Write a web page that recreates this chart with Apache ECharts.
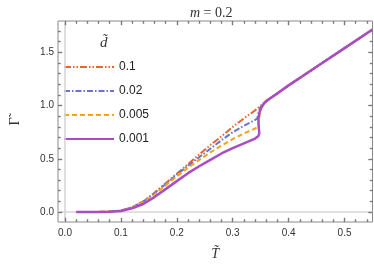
<!DOCTYPE html>
<html><head><meta charset="utf-8">
<script src="https://cdn.jsdelivr.net/npm/echarts@6/dist/echarts.min.js"></script>
<style>html,body{margin:0;padding:0;background:#fff}#c{width:374px;height:267px}</style>
</head><body><div id="c"></div>
<script>
// ---- data ----
const seriesNames = ["0.1", "0.02", "0.005", "0.001"];
const T_d01 = [0.02,0.04,0.06,0.08,0.10,0.12,0.14,0.16,0.18,0.20,0.22,0.24,0.26,0.28,0.30,0.32,0.34,0.355,0.38,0.40,0.45,0.50,0.55];
const G_d01 = [0,0,0.001,0.004,0.014,0.045,0.10,0.18,0.27,0.36,0.45,0.54,0.63,0.71,0.80,0.88,0.955,1.02,1.115,1.19,1.365,1.54,1.715];
const T_d002 = [0.02,0.04,0.06,0.08,0.10,0.12,0.14,0.16,0.18,0.20,0.22,0.24,0.26,0.28,0.30,0.32,0.34,0.344,0.346,0.349,0.356,0.38,0.40,0.45,0.50,0.55];
const G_d002 = [0,0,0.001,0.004,0.013,0.043,0.097,0.175,0.262,0.35,0.435,0.515,0.595,0.675,0.75,0.81,0.865,0.88,0.93,0.98,1.03,1.115,1.19,1.365,1.54,1.715];
const T_d0005 = [0.02,0.04,0.06,0.08,0.10,0.12,0.14,0.16,0.18,0.20,0.22,0.24,0.26,0.28,0.30,0.32,0.34,0.345,0.347,0.349,0.353,0.358,0.38,0.40,0.45,0.50,0.55];
const G_d0005 = [0,0,0.001,0.004,0.012,0.040,0.09,0.165,0.25,0.335,0.415,0.49,0.56,0.625,0.685,0.738,0.785,0.80,0.87,0.95,1.0,1.04,1.115,1.19,1.365,1.54,1.715];
const T_d0001 = [0.02,0.04,0.06,0.08,0.10,0.12,0.14,0.16,0.18,0.20,0.22,0.24,0.26,0.28,0.30,0.32,0.34,0.346,0.3475,0.3465,0.346,0.3475,0.351,0.356,0.362,0.38,0.40,0.45,0.50,0.55];
const G_d0001 = [0,0,0.001,0.003,0.010,0.035,0.075,0.14,0.215,0.29,0.365,0.43,0.49,0.55,0.60,0.645,0.69,0.715,0.74,0.80,0.87,0.93,0.98,1.02,1.05,1.115,1.19,1.365,1.54,1.715];
const xMajor = [0,0.1,0.2,0.3,0.4,0.5];
const xMinor = [0.02,0.04,0.06,0.08,0.12,0.14,0.16,0.18,0.22,0.24,0.26,0.28,0.32,0.34,0.36,0.38,0.42,0.44,0.46,0.48,0.52,0.54];
const yMajor = [0,0.5,1.0,1.5];
const yMinor = [0.1,0.2,0.3,0.4,0.6,0.7,0.8,0.9,1.1,1.2,1.3,1.4,1.6,1.7];

const zip = (a, b) => a.map((v, i) => [v, b[i]]);
const allT = [T_d01, T_d002, T_d0005, T_d0001];
const allG = [G_d01, G_d002, G_d0005, G_d0001];
const colors = ["#EA6430", "#6A74CC", "#F2A21C", "#A84DC4"];
const dashes = [[7,2,1.5,2,1.5,2], [6,2,1.5,2], [5,3], "solid"];
const widths = [2, 2, 2, 2.5];

const frameColor = "#8a8a8a";
const XMIN = -0.0125, XMAX = 0.55, YMIN = -0.094, YMAX = 1.795;
// tick lengths expressed in axis units (major / minor)
const XTL = 0.0075, XTLm = 0.0048, YTL = 0.04, YTLm = 0.026;

const tickStyle = {color: "#7a7a7a", width: 1.4, type: "solid", opacity: 1};
const tickLines = [];
xMajor.forEach(v => {
  tickLines.push([{coord: [v, YMIN], lineStyle: tickStyle}, {coord: [v, YMIN + YTL]}]);
  tickLines.push([{coord: [v, YMAX], lineStyle: tickStyle}, {coord: [v, YMAX - YTL]}]);
});
xMinor.forEach(v => {
  tickLines.push([{coord: [v, YMIN], lineStyle: tickStyle}, {coord: [v, YMIN + YTLm]}]);
  tickLines.push([{coord: [v, YMAX], lineStyle: tickStyle}, {coord: [v, YMAX - YTLm]}]);
});
yMajor.forEach(v => {
  tickLines.push([{coord: [XMIN, v], lineStyle: tickStyle}, {coord: [XMIN + XTL, v]}]);
  tickLines.push([{coord: [XMAX, v], lineStyle: tickStyle}, {coord: [XMAX - XTL, v]}]);
});
yMinor.forEach(v => {
  tickLines.push([{coord: [XMIN, v], lineStyle: tickStyle}, {coord: [XMIN + XTLm, v]}]);
  tickLines.push([{coord: [XMAX, v], lineStyle: tickStyle}, {coord: [XMAX - XTLm, v]}]);
});
const zeroStyle = {color: "#d6d6d6", width: 1.6, type: "solid"};
const zeroLines = [
  [{coord: [XMIN, 0], lineStyle: zeroStyle}, {coord: [XMAX, 0]}],
  [{coord: [0, YMIN], lineStyle: zeroStyle}, {coord: [0, YMAX]}]
];

const series = seriesNames.map((n, i) => ({
  name: n, type: "line", data: zip(allT[i], allG[i]), symbol: "none", smooth: false,
  xAxisIndex: 0, yAxisIndex: 0, z: 3 + i, clip: false,
  lineStyle: {color: colors[i], width: widths[i], type: dashes[i]},
  itemStyle: {color: colors[i]}
}));
series[0].markLine = {
  silent: true, symbol: "none", label: {show: false}, animation: false, precision: 6,
  data: zeroLines.concat(tickLines)
};

const axisLabelStyle = {color: "#333", fontSize: 10, fontFamily: "Liberation Sans"};

const chart = echarts.init(document.getElementById("c"), null, {renderer: "canvas"});
chart.setOption({
  animation: false,
  backgroundColor: "#fff",
  title: {
    text: "{i|m} = 0.2", left: 185, top: 1,
    textStyle: {fontFamily: "Liberation Serif", fontSize: 14, fontWeight: "normal", color: "#333",
      rich: {i: {fontFamily: "Liberation Serif", fontStyle: "italic", fontSize: 14, color: "#333"}}}
  },
  grid: {left: 48, right: 1.5, top: 21, bottom: 45, show: true, borderColor: frameColor, borderWidth: 1, backgroundColor: "transparent", containLabel: false},
  xAxis: {
    type: "value", position: "bottom", min: XMIN, max: XMAX,
    axisLine: {show: false, onZero: false}, splitLine: {show: false}, axisTick: {show: false},
    axisLabel: Object.assign({customValues: xMajor, formatter: v => v.toFixed(1), margin: 6}, axisLabelStyle),
    name: "T\u0303", nameLocation: "middle", nameGap: 25,
    nameTextStyle: {fontFamily: "Liberation Serif", fontStyle: "italic", fontSize: 14, color: "#333"}
  },
  yAxis: {
    type: "value", position: "left", min: YMIN, max: YMAX,
    axisLine: {show: false, onZero: false}, splitLine: {show: false}, axisTick: {show: false},
    axisLabel: Object.assign({customValues: yMajor, formatter: v => v.toFixed(1), margin: 4}, axisLabelStyle),
    name: "\u0393\u0303", nameLocation: "middle", nameGap: 36, nameRotate: 90,
    nameTextStyle: {fontFamily: "Liberation Serif", fontSize: 14, color: "#333"}
  },
  legend: {
    show: true, orient: "vertical", left: 63, top: 61, padding: 0, itemWidth: 50, itemHeight: 14, itemGap: 12,
    data: seriesNames,
    itemStyle: {opacity: 0},
    textStyle: {fontFamily: "Liberation Sans", fontSize: 12, color: "#222"}
  },
  graphic: [{
    type: "text", left: 100, top: 36,
    style: {text: "d\u0303", fontFamily: "Liberation Serif", fontStyle: "italic", fontSize: 15, fill: "#333"}
  }],
  series: series
});
</script></body></html>
